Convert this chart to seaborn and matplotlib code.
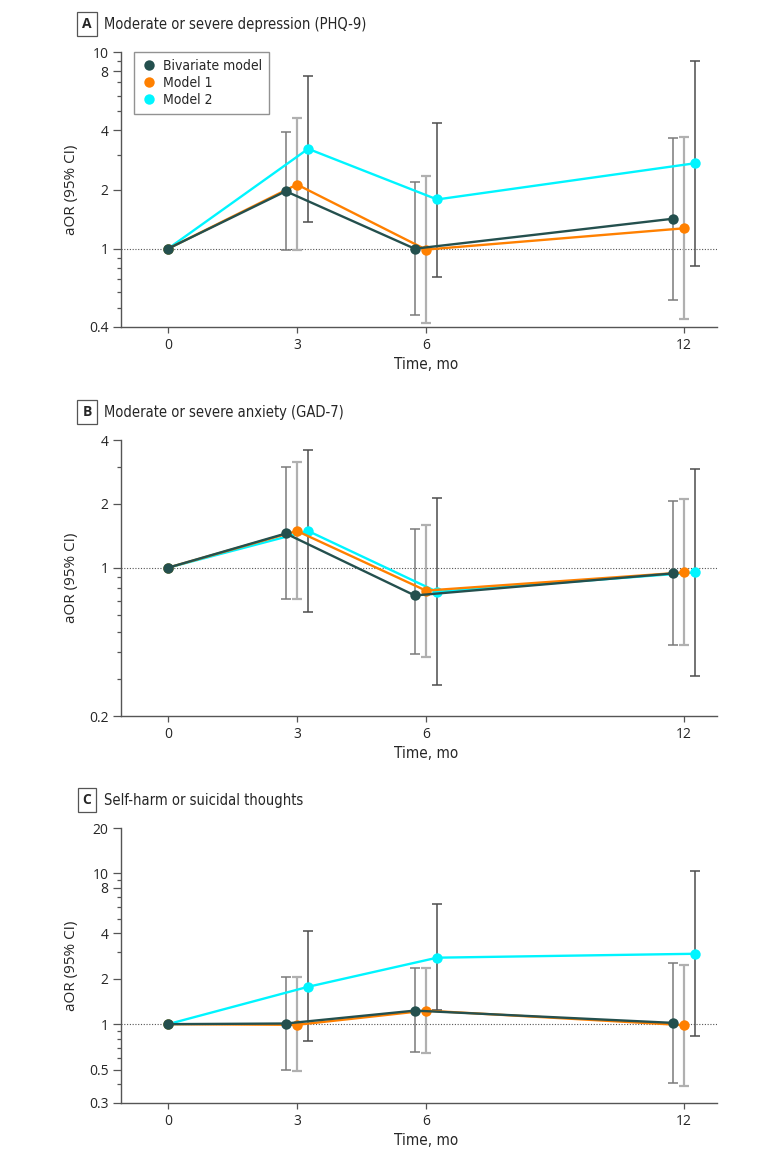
import numpy as np
import pandas as pd
import matplotlib
matplotlib.use('Agg')
import matplotlib.pyplot as plt
from matplotlib.lines import Line2D
from matplotlib.ticker import NullFormatter
import seaborn as sns

# --- data ---
months = [0, 3, 6, 12]
models = ['Bivariate model', 'Model 1', 'Model 2']

# A: depression (PHQ-9)
dep_biv = [1, 1.96, 1.00, 1.42]
dep_biv_lo = [np.nan, 0.99, 0.46, 0.55]
dep_biv_hi = [np.nan, 3.92, 2.18, 3.67]
dep_m1 = [1, 2.12, 0.99, 1.27]
dep_m1_lo = [np.nan, 0.98, 0.42, 0.44]
dep_m1_hi = [np.nan, 4.64, 2.35, 3.68]
dep_m2 = [1, 3.22, 1.78, 2.72]
dep_m2_lo = [np.nan, 1.37, 0.72, 0.82]
dep_m2_hi = [np.nan, 7.55, 4.37, 9.0]

# B: anxiety (GAD-7)
anx_biv = [1, 1.45, 0.74, 0.94]
anx_biv_lo = [np.nan, 0.71, 0.39, 0.43]
anx_biv_hi = [np.nan, 2.97, 1.52, 2.06]
anx_m1 = [1, 1.49, 0.78, 0.95]
anx_m1_lo = [np.nan, 0.71, 0.38, 0.43]
anx_m1_hi = [np.nan, 3.16, 1.59, 2.11]
anx_m2 = [1, 1.49, 0.77, 0.95]
anx_m2_lo = [np.nan, 0.62, 0.28, 0.31]
anx_m2_hi = [np.nan, 3.59, 2.12, 2.93]

# C: self-harm or suicidal thoughts
sh_biv = [1, 1.01, 1.23, 1.02]
sh_biv_lo = [np.nan, 0.50, 0.65, 0.41]
sh_biv_hi = [np.nan, 2.07, 2.34, 2.53]
sh_m1 = [1, 0.99, 1.23, 0.985]
sh_m1_lo = [np.nan, 0.49, 0.64, 0.39]
sh_m1_hi = [np.nan, 2.07, 2.37, 2.48]
sh_m2 = [1, 1.77, 2.76, 2.93]
sh_m2_lo = [np.nan, 0.77, 1.24, 0.84]
sh_m2_hi = [np.nan, 4.12, 6.22, 10.3]

panel_titles = ['Moderate or severe depression (PHQ-9)',
                'Moderate or severe anxiety (GAD-7)',
                'Self-harm or suicidal thoughts']
panel_letters = ['A', 'B', 'C']
ylims = [(0.4, 10), (0.2, 4), (0.3, 20)]
major_ticks = [[0.4, 1, 2, 4, 8, 10], [0.2, 1, 2, 4], [0.3, 0.5, 1, 2, 4, 8, 10, 20]]
minor_ticks = [[0.5, 0.6, 0.7, 0.8, 0.9, 3, 5, 6, 7, 9],
               [0.3, 0.4, 0.5, 0.6, 0.7, 0.8, 0.9, 3],
               [0.4, 0.6, 0.7, 0.8, 0.9, 3, 5, 6, 7, 9]]

panel_data = [
    [(dep_biv, dep_biv_lo, dep_biv_hi), (dep_m1, dep_m1_lo, dep_m1_hi), (dep_m2, dep_m2_lo, dep_m2_hi)],
    [(anx_biv, anx_biv_lo, anx_biv_hi), (anx_m1, anx_m1_lo, anx_m1_hi), (anx_m2, anx_m2_lo, anx_m2_hi)],
    [(sh_biv, sh_biv_lo, sh_biv_hi), (sh_m1, sh_m1_lo, sh_m1_hi), (sh_m2, sh_m2_lo, sh_m2_hi)],
]

rows = []
for p, series in enumerate(panel_data):
    for model, (est, lo, hi) in zip(models, series):
        for m, e, l, h in zip(months, est, lo, hi):
            rows.append(dict(panel=p, model=model, month=m, aor=e, lo=l, hi=h))
df = pd.DataFrame(rows)

# dodge models sideways except at baseline
dodge = {'Bivariate model': -0.26, 'Model 1': 0.0, 'Model 2': 0.26}
df['pos'] = df['month'] + np.where(df['month'] > 0, df['model'].map(dodge), 0.0)

colors = {'Bivariate model': '#24504e', 'Model 1': '#ff8000', 'Model 2': '#00f5ff'}
err_colors = {'Bivariate model': '#7a7a7a', 'Model 1': '#b0b0b0', 'Model 2': '#4d4d4d'}
err_widths = {'Bivariate model': 1.1, 'Model 1': 1.6, 'Model 2': 1.1}

sns.set_style('ticks')
plt.rcParams['font.family'] = ['DejaVu Sans']
narrow = dict(family='DejaVu Sans', stretch='condensed')
regular = ['Open Sans', 'DejaVu Sans']

W, H = 780, 1158
fig = plt.figure(figsize=(W / 100, H / 100), dpi=100)

# axes boxes in pixels: left, top, right, bottom
boxes = [(121, 52, 717, 327), (121, 440, 717, 716), (121, 828, 717, 1103)]
title_y = [24, 412, 800]

for p in range(3):
    l, t, r, b = boxes[p]
    ax = fig.add_axes([l / W, 1 - b / H, (r - l) / W, (b - t) / H])
    sub = df[df['panel'] == p]

    for model in ['Model 2', 'Model 1', 'Bivariate model']:
        s = sub[(sub['model'] == model) & (sub['month'] > 0)]
        ax.errorbar(s['pos'], s['aor'], yerr=[s['aor'] - s['lo'], s['hi'] - s['aor']],
                    fmt='none', ecolor=err_colors[model], elinewidth=err_widths[model],
                    capsize=3.8, capthick=err_widths[model], zorder=2)

    ax.axhline(1, color='#555555', linestyle=(0, (1, 1.5)), linewidth=0.8, zorder=1)

    sns.lineplot(data=sub, x='pos', y='aor', hue='model',
                 hue_order=['Model 2', 'Model 1', 'Bivariate model'],
                 palette=colors, marker='o', markersize=7.5, markeredgewidth=0,
                 linewidth=1.7, sort=False, legend=False, ax=ax, zorder=3)

    ax.set_yscale('log')
    ax.set_ylim(*ylims[p])
    ax.set_xlim(-1.093, 12.77)
    ax.set_yticks(major_ticks[p])
    ax.set_yticklabels([f'{v:g}' for v in major_ticks[p]], family=regular, fontsize=10)
    ax.set_yticks(minor_ticks[p], minor=True)
    ax.yaxis.set_minor_formatter(NullFormatter())
    ax.set_xticks(months)
    ax.set_xticklabels([str(m) for m in months], family=regular, fontsize=10)
    ax.tick_params(axis='y', which='major', length=6, width=0.9, color='#555555', pad=3)
    ax.tick_params(axis='y', which='minor', length=3, width=0.9, color='#555555')
    ax.tick_params(axis='x', length=4, width=0.9, color='#555555', pad=4)

    for side in ['top', 'right']:
        ax.spines[side].set_visible(False)
    for side in ['left', 'bottom']:
        ax.spines[side].set_color('#555555')
        ax.spines[side].set_linewidth(1.0)

    ax.set_xlabel('Time, mo', fontsize=11, **narrow)
    ax.xaxis.set_label_coords((426 - l) / (r - l), -0.11)
    ax.set_ylabel('aOR (95% CI)', family=regular, fontsize=11)
    ax.yaxis.set_label_coords(-(l - 79) / (r - l), 0.5)

    fig.text(87 / W, 1 - title_y[p] / H, panel_letters[p], ha='center', va='center',
             fontsize=10, fontweight='bold', family=regular,
             bbox=dict(boxstyle='square,pad=0.35', fc='white', ec='#555555', lw=0.9))
    fig.text(104 / W, 1 - title_y[p] / H, panel_titles[p], ha='left', va='center',
             fontsize=10.5, **narrow)

    if p == 0:
        handles = [Line2D([], [], linestyle='none', marker='o', markersize=7.5,
                          markeredgewidth=0, color=colors[m]) for m in models]
        leg = ax.legend(handles, models, loc='upper left', bbox_to_anchor=(0.022, 1.0),
                        borderaxespad=0, frameon=True, fancybox=False,
                        prop={'family': 'DejaVu Sans', 'stretch': 'condensed', 'size': 10},
                        handletextpad=0.35, handlelength=1.2, labelspacing=0.22,
                        borderpad=0.5)
        leg.get_frame().set_edgecolor('#777777')
        leg.get_frame().set_linewidth(1.0)

fig.savefig('out.png', dpi=100)
